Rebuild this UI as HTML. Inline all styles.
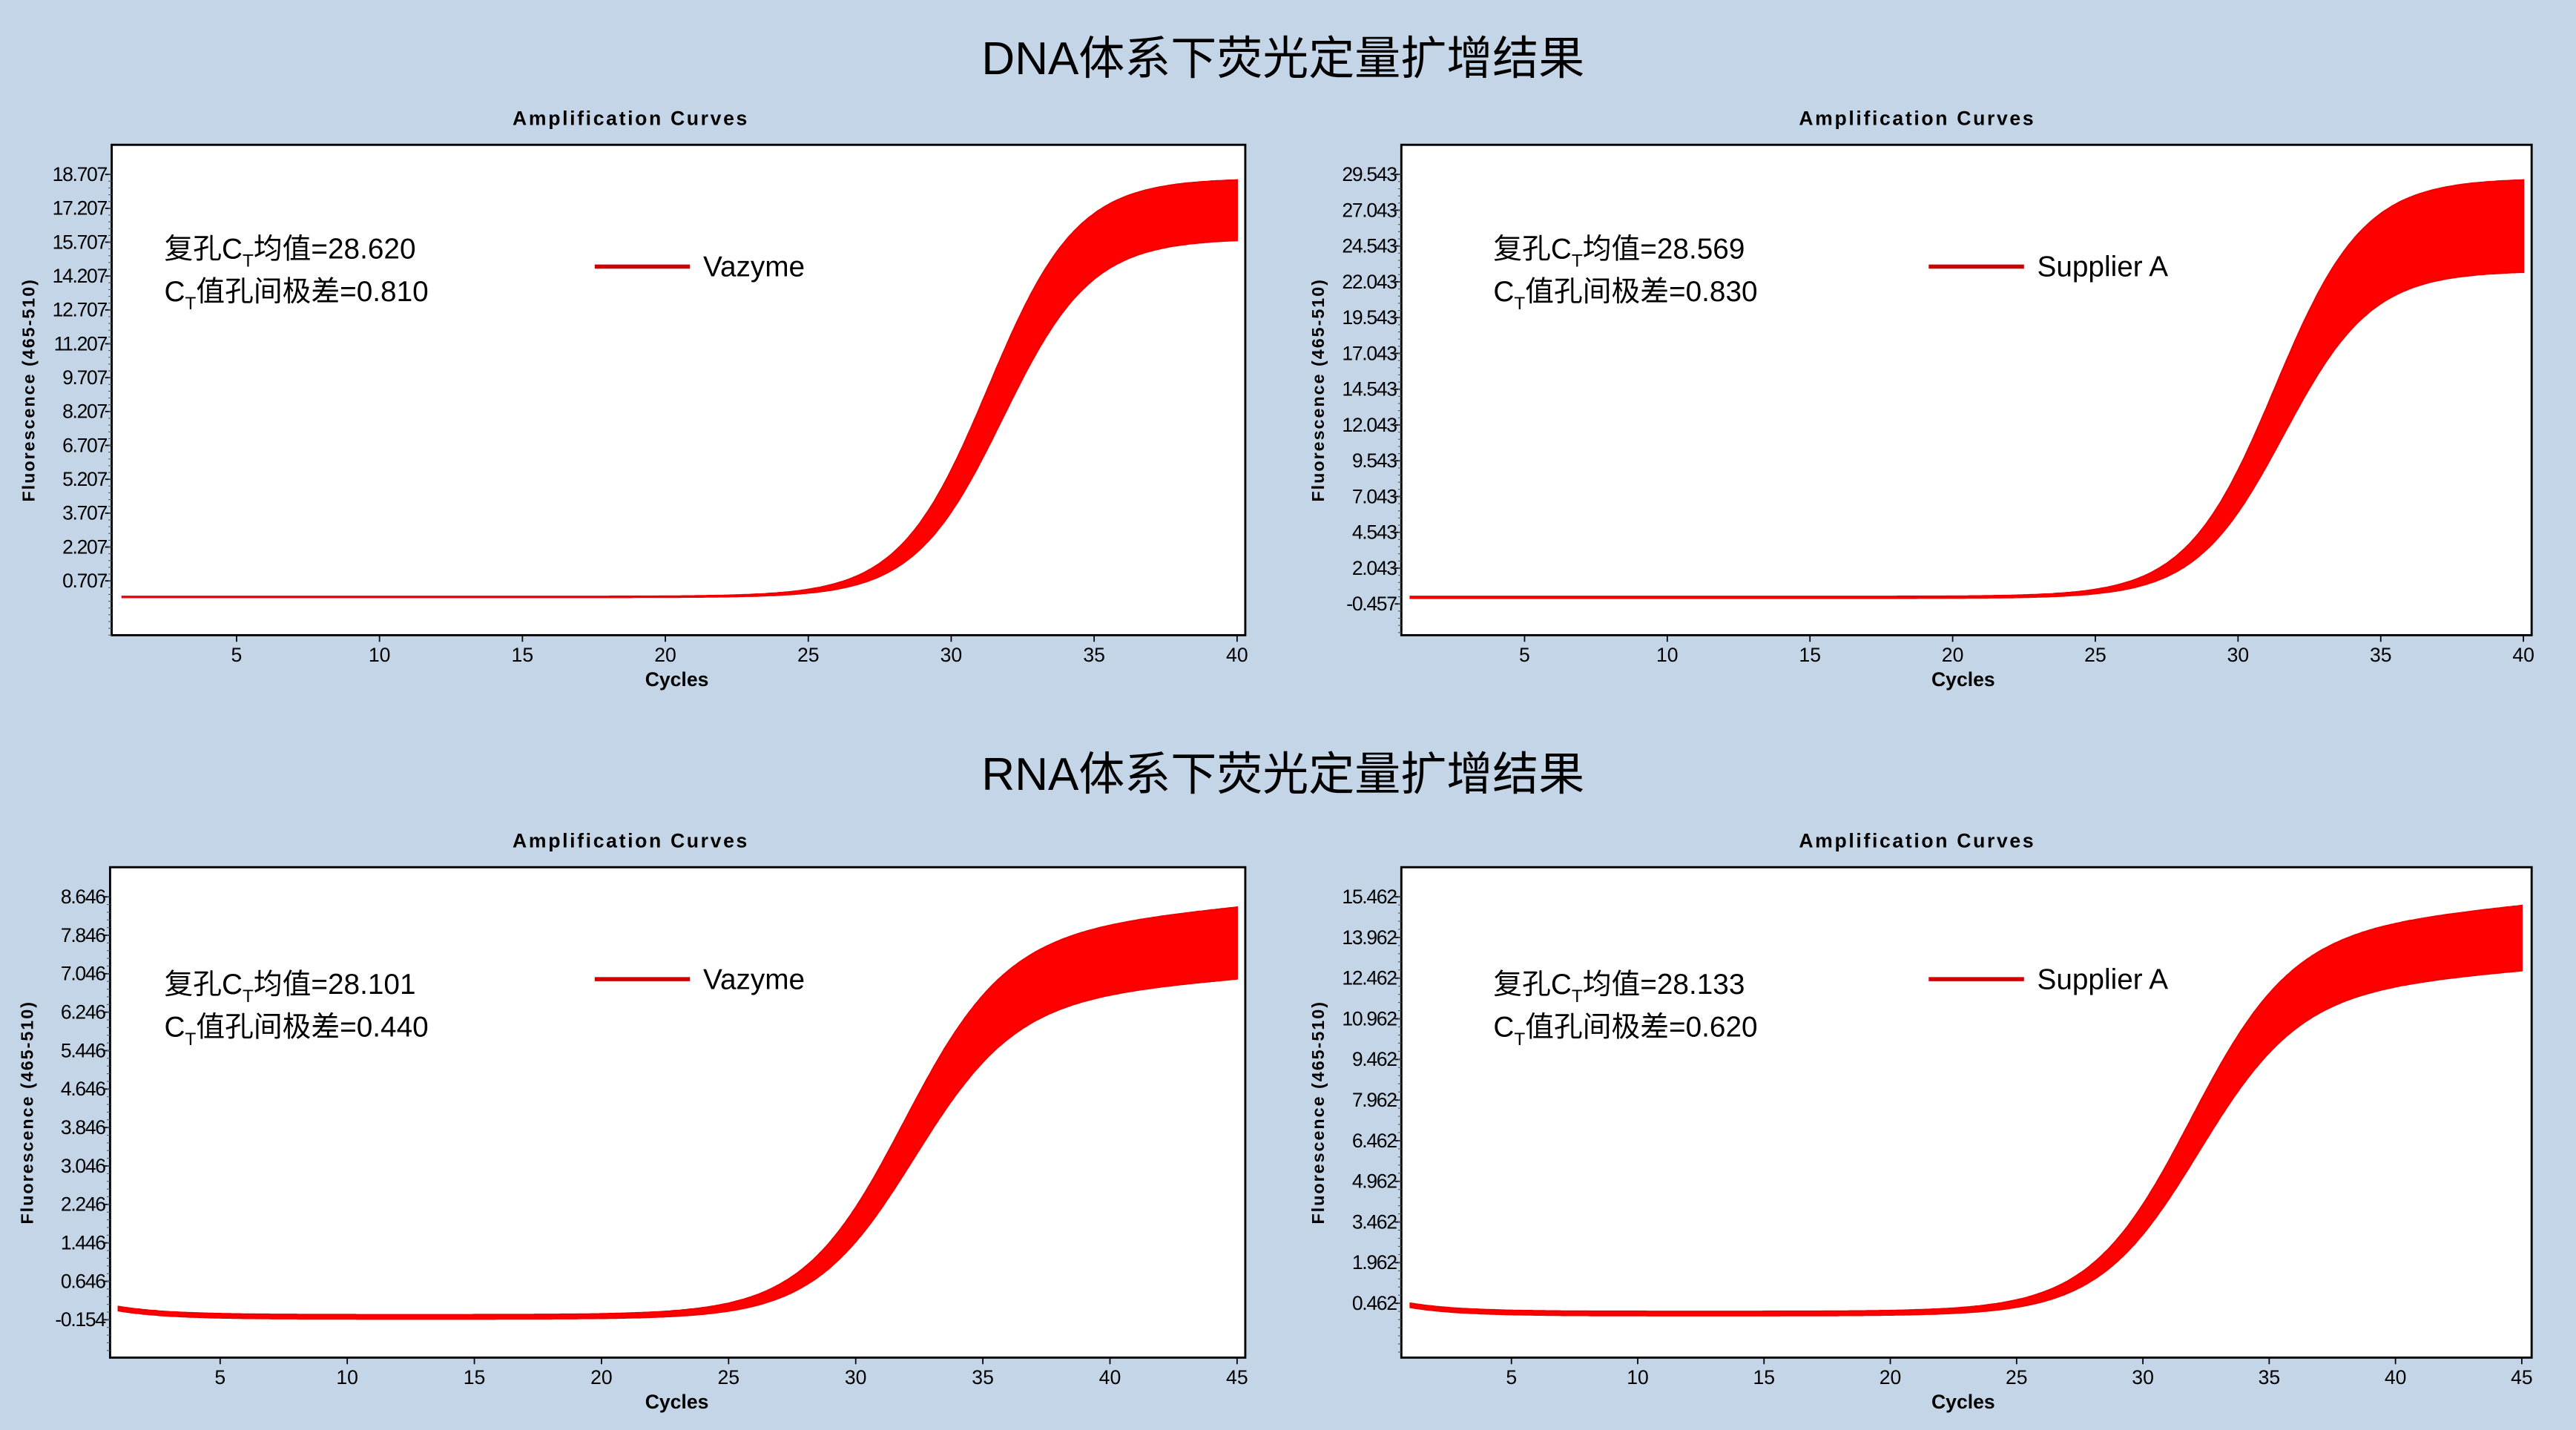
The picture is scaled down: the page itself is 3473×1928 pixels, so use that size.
<!DOCTYPE html>
<html><head><meta charset="utf-8"><style>
html,body{margin:0;padding:0;background:#c3d5e6;}
svg{display:block}
text{font-family:"Liberation Sans","Noto Sans CJK SC",sans-serif;}
</style></head><body>
<svg id="s" width="3473" height="1928" viewBox="0 0 1568 869" preserveAspectRatio="none" xmlns="http://www.w3.org/2000/svg">
<rect width="1568" height="869" fill="#c3d5e6"/>
<text x="781" y="45" font-size="28" text-anchor="middle">DNA体系下荧光定量扩增结果</text>
<text x="781" y="480" font-size="28" text-anchor="middle">RNA体系下荧光定量扩增结果</text>
<g id="g"></g>
</svg>
<script>
var NS="http://www.w3.org/2000/svg",g=document.getElementById('g');
function el(t,a,txt){var e=document.createElementNS(NS,t);for(var k in a)e.setAttribute(k,a[k]);if(txt!=null)e.textContent=txt;g.appendChild(e);return e;}
function panel(p){
 var L=p.x0,R=p.x1,T=p.y0,B=p.y1;
 el('text',{x:p.tx,y:T-12,'font-size':12,'font-weight':'bold','text-anchor':'middle','letter-spacing':'1.2'},'Amplification Curves');
 el('rect',{x:L,y:T,width:R-L,height:B-T,fill:'#fff',stroke:'#000','stroke-width':1.3});
 for(var i=0;i<p.yl.length;i++){var y=p.ya+(p.yb-p.ya)*i/(p.yl.length-1);
  el('line',{x1:L-4,x2:L,y1:y,y2:y,stroke:'#000','stroke-width':0.8});
  el('text',{x:L-3,y:y+4,'font-size':12,'text-anchor':'end','letter-spacing':'-0.6'},p.yl[i]);}
 for(var y=p.ya;y<B;y+=(p.yb-p.ya)/(p.yl.length-1)/5) el('line',{x1:L-2,x2:L,y1:y,y2:y,stroke:'#555','stroke-width':0.5});
 var n=p.xn;for(var c=5;c<=n;c+=5){var x=p.xa+(p.xb-p.xa)*(c-5)/(n-5);
  el('line',{x1:x,x2:x,y1:B,y2:B+4,stroke:'#000','stroke-width':0.8});
  el('text',{x:x,y:B+16,'font-size':12,'text-anchor':'middle'},c);}
 el('text',{x:p.tx+28,y:B+31,'font-size':12,'font-weight':'bold','text-anchor':'middle'},'Cycles');
 var yc=(T+B)/2, yx=L-47;
 el('text',{x:yx,y:yc,'font-size':10.5,'font-weight':'bold','text-anchor':'middle','letter-spacing':'0.9','font-family':'Liberation Mono,monospace',transform:'rotate(-90 '+yx+' '+yc+')'},'Fluorescence (465-510)');
 var t1=el('text',{x:p.ax,y:p.ay,'font-size':17.5});
 t1.innerHTML='复孔C<tspan font-size="11" dy="5">T</tspan><tspan dy="-5">均值='+p.m+'</tspan>';
 var t2=el('text',{x:p.ax,y:p.ay+26,'font-size':17.5});
 t2.innerHTML='C<tspan font-size="11" dy="5">T</tspan><tspan dy="-5">值孔间极差='+p.r+'</tspan>';
 el('line',{x1:p.lx,x2:p.lx+58,y1:p.ly,y2:p.ly,stroke:'#d00000','stroke-width':2.5});
 el('text',{x:p.lx+66,y:p.ly+6,'font-size':17.5},p.name);
 var cx=function(c){return p.xa+(p.xb-p.xa)*(c-5)/(n-5);};
 function curve(A,c0,k,base){var pts=[];for(var c=1;c<=n+0.001;c+=0.1){var y=base(c)-A*(1+p.d*(c-n))/(1+Math.exp(-(c-c0)/k));pts.push([cx(c),y]);}return pts;}
 var up=curve(p.Au,p.cu,p.k,p.base),lo=curve(p.Al,p.cl,p.k,p.base2);
 var d='M'+up.map(function(q){return q[0].toFixed(1)+','+q[1].toFixed(1)}).join('L')+'L'+lo.reverse().map(function(q){return q[0].toFixed(1)+','+q[1].toFixed(1)}).join('L')+'Z';
 el('path',{d:d,fill:'#ff0000',stroke:'#ee0000','stroke-width':1});
}
panel({x0:68,x1:758,y0:88,y1:386,tx:384,ax:100,ay:157,ya:106,yb:353,yl:['18.707','17.207','15.707','14.207','12.707','11.207','9.707','8.207','6.707','5.207','3.707','2.207','0.707'],xn:40,xa:144,xb:753,m:'28.620',r:'0.810',name:'Vazyme',lx:362,ly:162,Au:254,cu:31.3,Al:218,cl:31.8,k:1.55,d:0,base:function(c){return 362.5},base2:function(c){return 363}});
panel({x0:853,x1:1541,y0:88,y1:386,tx:1167,ax:909,ay:157,ya:106,yb:367,yl:['29.543','27.043','24.543','22.043','19.543','17.043','14.543','12.043','9.543','7.043','4.543','2.043','-0.457'],xn:40,xa:928,xb:1536,m:'28.569',r:'0.830',name:'Supplier A',lx:1174,ly:162,Au:254,cu:31.3,Al:199,cl:31.6,k:1.55,d:0,base:function(c){return 362.5},base2:function(c){return 363.5}});
panel({x0:67,x1:758,y0:527,y1:825,tx:384,ax:100,ay:604,ya:545,yb:802,yl:['8.646','7.846','7.046','6.246','5.446','4.646','3.846','3.046','2.246','1.446','0.646','-0.154'],xn:45,xa:134,xb:753,m:'28.101',r:'0.440',name:'Vazyme',lx:362,ly:595,Au:248,cu:31.8,Al:207,cl:32.2,k:2.0,d:0.006,base:function(c){return 799-5*Math.exp(-(c-1)/2)},base2:function(c){return 801.5-5*Math.exp(-(c-1)/2)}});
panel({x0:853,x1:1541,y0:527,y1:825,tx:1167,ax:909,ay:604,ya:545,yb:792,yl:['15.462','13.962','12.462','10.962','9.462','7.962','6.462','4.962','3.462','1.962','0.462'],xn:45,xa:920,xb:1535,m:'28.133',r:'0.620',name:'Supplier A',lx:1174,ly:595,Au:247,cu:31.8,Al:210,cl:32.1,k:2.0,d:0.006,base:function(c){return 797-5*Math.exp(-(c-1)/2)},base2:function(c){return 799.5-5*Math.exp(-(c-1)/2)}});
</script>
</body></html>
